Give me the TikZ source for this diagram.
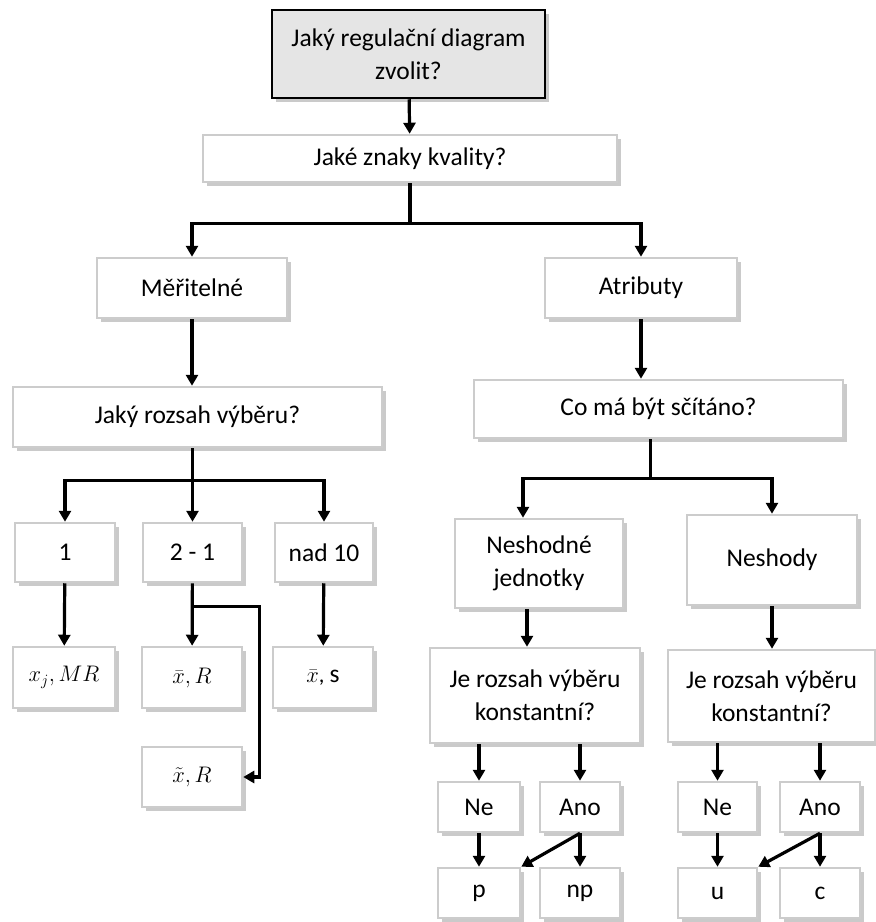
\RequirePackage{fix-cm}
\documentclass[tikz,border=0pt]{standalone}
\usepackage{amsmath}
\usepackage{fontspec}
\setmainfont{Carlito}
\usetikzlibrary{arrows.meta,shadows}
\tikzset{
    box/.style={draw=gray!40, line width=2.5pt, fill=white, align=center, inner sep=2pt,
        drop shadow={shadow xshift=3.5pt, shadow yshift=-3.5pt, fill=gray!70, opacity=0.6},
        font=\fontsize{25.5}{33}\selectfont},
    topbox/.style={box, draw=black, fill=gray!20},
    mathbox/.style={box, font=\fontsize{22.5}{26}\selectfont},
    ln/.style={line width=3.2pt},
    arr/.style={line width=3.2pt, -{Triangle[length=11pt,width=12pt]}}
}

\begin{document}
\begin{tikzpicture}[x=1pt, y=-1pt]
        \useasboundingbox (0,0) rectangle (876,922);
        \node[topbox, minimum width=273pt, minimum height=88pt] (top) at (408.5,54) {Jaký regulační diagram\\zvolit?};
        \node[box, minimum width=414pt, minimum height=47pt] (kval) at (410,158.5) {Jaké znaky kvality?};
        \node[box, minimum width=190pt, minimum height=60pt] (mer) at (192,288) {Měřitelné};
        \node[box, minimum width=192pt, minimum height=60pt] (atr) at (641,288) {Atributy};
        \node[box, minimum width=369pt, minimum height=60pt] (rozsah) at (197.5,417) {Jaký rozsah výběru?};
        \node[box, minimum width=369pt, minimum height=58pt] (scit) at (658.5,409) {Co má být sčítáno?};
        \node[box, minimum width=100pt, minimum height=59pt] (n1) at (65,552.5) {1};
        \node[box, minimum width=99pt, minimum height=59pt] (n2) at (192.5,552.5) {2 - 1};
        \node[box, minimum width=98pt, minimum height=59pt] (n10) at (324,552.5) {nad 10};
        \node[mathbox, minimum width=102pt, minimum height=61pt] (xmr) at (64,677.5) {$x_j, MR$};
        \node[mathbox, minimum width=100pt, minimum height=61pt] (xr) at (192,677.5) {$\bar{x}, R$};
        \node[mathbox, minimum width=100pt, minimum height=61pt] (xs) at (323,677.5) {$\bar{x}$, \fontsize{25.5}{33}\selectfont s};
        \node[mathbox, minimum width=100pt, minimum height=60pt] (medr) at (192,777) {$\tilde{x}, R$};
        \node[box, minimum width=168pt, minimum height=89pt] (nj) at (539,563.5) {Neshodné\\jednotky};
        \node[box, minimum width=170pt, minimum height=90pt] (nsh) at (772,560) {Neshody};
        \node[box, minimum width=210pt, minimum height=95pt] (konst1) at (535,695.5) {Je rozsah výběru\\konstantní?};
        \node[box, minimum width=207pt, minimum height=92pt] (konst2) at (771.5,696) {Je rozsah výběru\\konstantní?};
        \node[box, minimum width=82pt, minimum height=50pt] (ne1) at (479,807) {Ne};
        \node[box, minimum width=80pt, minimum height=50pt] (ano1) at (580,807) {Ano};
        \node[box, minimum width=79pt, minimum height=50pt] (ne2) at (717.5,807) {Ne};
        \node[box, minimum width=80pt, minimum height=50pt] (ano2) at (820,807) {Ano};
        \node[box, minimum width=82pt, minimum height=50pt] (p) at (479,893) {p};
        \node[box, minimum width=80pt, minimum height=50pt] (np) at (580,893) {np};
        \node[box, minimum width=79pt, minimum height=50pt] (u) at (717.5,893) {u};
        \node[box, minimum width=80pt, minimum height=50pt] (c) at (820,893) {c};
        \draw[arr] (top) -- (kval);
        \draw[ln] (kval.south) -- ++(0,40) coordinate (kb);
        \draw[arr] (kb) -| (mer.north);
        \draw[arr] (kb) -| (atr.north);
        \draw[arr] (mer.south) -- (mer.south |- rozsah.north);
        \draw[arr] (atr.south) -- (atr.south |- scit.north);
        \draw[ln] (n2.north |- rozsah.south) -- ++(0,32) coordinate (rb);
        \draw[arr] (rb) -| (n1.north);
        \draw[arr] (rb) -- (n2.north);
        \draw[arr] (rb) -| (n10.north);
        \draw[ln] ([xshift=-8pt]scit.south) -- ++(0,39) coordinate (sb);
        \draw[arr] (sb) -| ([xshift=-16pt]nj.north);
        \draw[arr] (sb) -| (nsh.north);
        \draw[arr] (n1) -- (xmr);
        \draw[arr] (n2) -- (xr);
        \draw[arr] (n10) -- (xs);
        \draw[arr] (n2.south) ++(0,23) -- ++(67,0) |- (medr.east);
        \draw[arr] ([xshift=-12pt]nj.south) -- ([xshift=-12pt]nj.south |- konst1.north);
        \draw[arr] (nsh.south) -- (nsh.south |- konst2.north);
        \draw[arr] (ne1.north |- konst1.south) -- (ne1.north);
        \draw[arr] (ano1.north |- konst1.south) -- (ano1.north);
        \draw[arr] (ne2.north |- konst2.south) -- (ne2.north);
        \draw[arr] (ano2.north |- konst2.south) -- (ano2.north);
        \draw[arr] (ne1) -- (p);
        \draw[arr] (ano1) -- (np);
        \draw[arr] (ano1.south) -- (p.north east);
        \draw[arr] (ne2) -- (u);
        \draw[arr] (ano2) -- (c);
        \draw[arr] (ano2.south) -- (u.north east);
    \end{tikzpicture}
\end{document}
